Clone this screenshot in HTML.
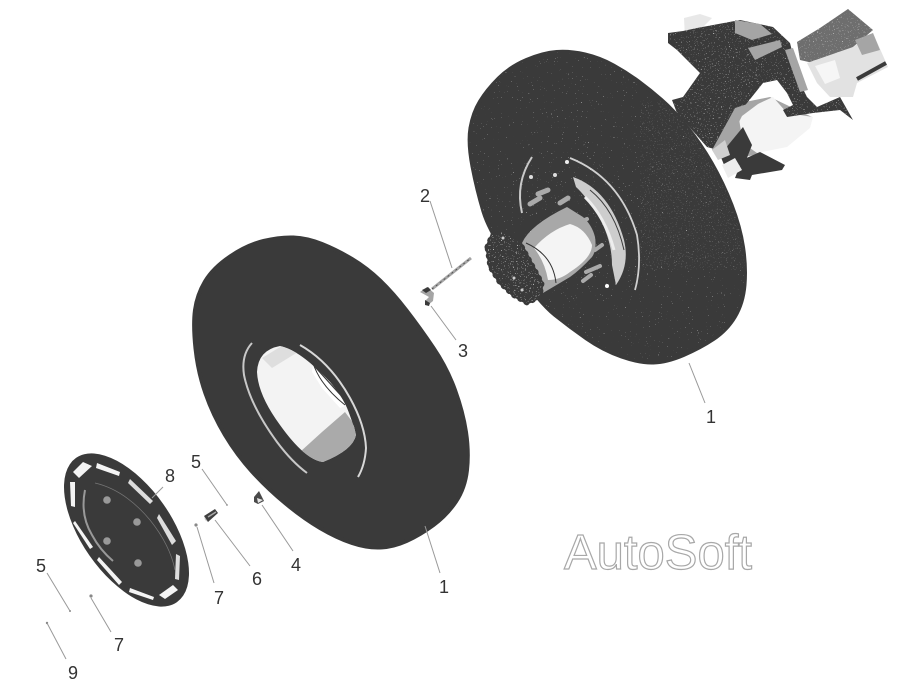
<!DOCTYPE html>
<html><head><meta charset="utf-8">
<style>
html,body{margin:0;padding:0;background:#fff;width:900px;height:686px;overflow:hidden}
svg{display:block}
text{font-family:"Liberation Sans",sans-serif}
.n{font-size:18px;fill:#333;text-anchor:middle}
.l{stroke:#999;stroke-width:1;fill:none}
</style></head><body>
<svg width="900" height="686" viewBox="0 0 900 686" xmlns="http://www.w3.org/2000/svg">
<defs>
<filter id="sp" x="0" y="0" width="100%" height="100%"><feTurbulence type="fractalNoise" baseFrequency="0.75" numOctaves="2" seed="7"/><feColorMatrix values="0 0 0 0 .75 0 0 0 0 .75 0 0 0 0 .75 0 0 0 14 -9.6"/></filter>
<filter id="sp3" x="0" y="0" width="100%" height="100%"><feTurbulence type="fractalNoise" baseFrequency="0.8" numOctaves="2" seed="11"/><feColorMatrix values="0 0 0 0 .7 0 0 0 0 .7 0 0 0 0 .7 0 0 0 16 -12.4"/></filter>
<clipPath id="rt"><path d="M470.5,128 Q473,113 480,101.5 Q487,90 498.5,78.5 Q510,67 526.5,60 Q543,53 556.5,52 Q570,51 585,54.5 Q600,58 613.5,65.5 Q627,73 638.5,81.5 Q650,90 661.5,100 Q673,110 686.5,126.5 Q700,143 711.5,163 Q723,183 731.5,205 Q740,227 743,247 Q746,267 744.5,285 Q743,303 735,316.5 Q727,330 713.5,339 Q700,348 683.5,355 Q667,362 653.5,362.5 Q640,363 621.5,356.5 Q603,350 586.5,338.5 Q570,327 555,315 Q540,303 515,268 Q490,233 483.5,211.5 Q477,190 472.5,166.5 Q468,143 470.5,128Z"/></clipPath>
<clipPath id="bd"><polygon points="668,33 683,31 697,28 740,20 773,27 790,43 800,83 807,97 817,107 840,97 853,120 840,110 813,113 787,117 783,110 793,105 787,93 777,80 763,83 747,103 730,123 718,150 707,147 677,113 672,100 683,97 700,73 677,50 668,43"/><polygon points="797,42 820,28 848,9 873,30 853,47 840,57 813,63 800,60"/></clipPath>
<clipPath id="hf"><polygon points="487,247 492,235 503,232 520,243 542,283 540,297 527,303 513,295 500,283 490,267"/></clipPath>
<clipPath id="li"><path d="M257,372 Q258,350 280,346 Q300,350 330,382 Q350,405 356,435 Q353,450 323,462 Q305,460 280,425 Q258,395 257,372Z"/></clipPath>
</defs>
<rect width="900" height="686" fill="#fff"/>

<!-- axle assembly -->
<g stroke-linejoin="round">
<polygon fill="#6e6e6e" points="797,42 820,28 848,9 873,30 853,47 840,57 813,63 800,60"/>
<polygon fill="#e2e2e2" points="807,63 853,47 873,33 888,67 857,83 853,97 830,97 817,83"/>
<polygon fill="#f6f6f6" points="815,66 835,60 840,78 825,84"/>
<polygon fill="#a5a5a5" points="855,40 873,33 880,50 862,55"/>
<line x1="857" y1="79" x2="886" y2="63" stroke="#3a3a3a" stroke-width="4"/>
<polygon fill="#e8e8e8" points="684,18 700,14 712,18 700,30 685,38"/>
<polygon fill="#a5a5a5" points="730,105 770,97 812,117 790,135 755,155 725,160 712,150"/>
<polygon fill="#f4f4f4" points="738,113 773,97 787,113 813,117 810,128 787,147 757,153 743,143"/>
<polygon fill="#3a3a3a" points="668,33 683,31 697,28 740,20 773,27 790,43 800,83 807,97 817,107 840,97 853,120 840,110 813,113 787,117 783,110 793,105 787,93 777,80 763,83 747,103 730,123 718,150 707,147 677,113 672,100 683,97 700,73 677,50 668,43"/>
<g clip-path="url(#bd)"><rect x="660" y="0" width="220" height="160" filter="url(#sp)" opacity=".7"/></g>
<polygon fill="#a5a5a5" points="735,20 760,24 772,34 752,40 735,33"/>
<polygon fill="#a5a5a5" points="748,48 780,40 782,47 755,60"/>
<polygon fill="#a5a5a5" points="785,50 793,48 808,90 800,92"/>
<polygon fill="#a5a5a5" points="735,108 766,98 742,116 725,150 712,150"/>
<polygon fill="#3a3a3a" points="743,127 752,145 745,163 727,172 720,155"/>
<polygon fill="#3a3a3a" points="742,160 760,152 785,165 782,170 752,175 750,180 735,178"/>
<polygon fill="#ededed" points="722,165 735,158 742,170 728,178"/>
<polygon fill="#cfcfcf" points="712,150 725,140 730,155 718,160"/>
</g>

<!-- rear tire -->
<path fill="#3a3a3a" stroke="#3a3a3a" stroke-width="4" d="M470.5,128 Q473,113 480,101.5 Q487,90 498.5,78.5 Q510,67 526.5,60 Q543,53 556.5,52 Q570,51 585,54.5 Q600,58 613.5,65.5 Q627,73 638.5,81.5 Q650,90 661.5,100 Q673,110 686.5,126.5 Q700,143 711.5,163 Q723,183 731.5,205 Q740,227 743,247 Q746,267 744.5,285 Q743,303 735,316.5 Q727,330 713.5,339 Q700,348 683.5,355 Q667,362 653.5,362.5 Q640,363 621.5,356.5 Q603,350 586.5,338.5 Q570,327 555,315 Q540,303 515,268 Q490,233 483.5,211.5 Q477,190 472.5,166.5 Q468,143 470.5,128Z"/>
<g clip-path="url(#rt)"><rect x="460" y="40" width="300" height="330" filter="url(#sp3)"/><polygon points="650,100 745,190 745,270 670,240 640,150" filter="url(#sp)" opacity=".3"/></g>

<!-- rear rim -->
<path d="M522,213 Q515,183 532,157" fill="none" stroke="#c9c9c9" stroke-width="2"/>
<path d="M570,158 Q620,178 637,235 Q642,265 635,290" fill="none" stroke="#d0d0d0" stroke-width="1.8"/>
<path d="M573,177 Q610,190 624,240 Q630,265 616,285 L612,265 Q612,240 598,215 Q585,195 576,187Z" fill="#cdcdcd"/>
<path d="M590,190 Q615,210 624,250" fill="none" stroke="#3a3a3a" stroke-width="1"/>
<path d="M585,197 Q605,217 614,250" fill="none" stroke="#eee" stroke-width="3"/>
<line x1="530" y1="204" x2="540" y2="198" stroke="#aaa" stroke-width="5" stroke-linecap="round"/>
<line x1="538" y1="194" x2="548" y2="190" stroke="#aaa" stroke-width="5" stroke-linecap="round"/>
<line x1="560" y1="203" x2="568" y2="198" stroke="#aaa" stroke-width="5" stroke-linecap="round"/>
<line x1="580" y1="222" x2="587" y2="219" stroke="#aaa" stroke-width="4" stroke-linecap="round"/>
<line x1="595" y1="250" x2="602" y2="245" stroke="#aaa" stroke-width="4" stroke-linecap="round"/>
<line x1="586" y1="272" x2="600" y2="266" stroke="#aaa" stroke-width="4" stroke-linecap="round"/>
<line x1="583" y1="281" x2="591" y2="275" stroke="#aaa" stroke-width="4" stroke-linecap="round"/>
<circle cx="531" cy="177" r="2" fill="#ddd"/><circle cx="555" cy="175" r="2" fill="#ddd"/><circle cx="567" cy="162" r="2" fill="#eee"/><circle cx="607" cy="286" r="2" fill="#fff"/>

<!-- rear hub -->
<path fill="#a8a8a8" d="M522,243 Q530,225 567,207 L583,217 Q592,225 595,237 Q597,250 592,257 Q580,270 570,277 L543,293 L542,280Z"/>
<path fill="#f4f4f4" d="M534,248 Q550,230 570,224 Q585,228 592,245 Q592,258 570,272 Q560,280 548,280 Q545,262 534,248Z"/>
<path d="M526,243 Q553,255 556,283" fill="none" stroke="#333" stroke-width="1"/>
<polygon points="487,247 492,235 503,232 520,243 542,283 540,297 527,303 513,295 500,283 490,267" fill="#3a3a3a" stroke="#3a3a3a" stroke-width="3" stroke-linejoin="round"/>
<polygon points="487,247 492,235 503,232 520,243 542,283 540,297 527,303 513,295 500,283 490,267" fill="none" stroke="#3a3a3a" stroke-width="5" stroke-dasharray="1 6" stroke-linecap="round"/>
<g clip-path="url(#hf)"><rect x="480" y="225" width="70" height="85" filter="url(#sp)"/></g>
<g fill="#ccc"><circle cx="503" cy="238" r="1.5"/><circle cx="514" cy="278" r="1.5"/><circle cx="522" cy="290" r="1.5"/></g>

<!-- front tire -->
<path fill="#3a3a3a" stroke="#3a3a3a" stroke-width="4" d="M195,310 Q197,295 205,281.5 Q213,268 230,256.5 Q247,245 263.5,241 Q280,237 293.5,237.5 Q307,238 322,244 Q337,250 352,259 Q367,268 380,280.5 Q393,293 406.5,310.5 Q420,328 433.5,348 Q447,368 455,390 Q463,412 466,432 Q469,452 467,470 Q465,488 456,501.5 Q447,515 433.5,525 Q420,535 406.5,541 Q393,547 380,547.5 Q367,548 352,543 Q337,538 320,528 Q303,518 285,503 Q267,488 252,471.5 Q237,455 225,435 Q213,415 205.5,393.5 Q198,372 195.5,348.5 Q193,325 195,310Z"/>

<!-- front rim -->
<path d="M252,343 Q241,355 244,375 Q250,405 277,442 Q292,462 307,473" fill="none" stroke="#c8c8c8" stroke-width="2"/>
<path d="M300,345 Q330,362 350,398 Q365,425 366,448 Q365,465 358,477" fill="none" stroke="#d8d8d8" stroke-width="2"/>
<path fill="#f3f3f3" d="M257,372 Q258,350 280,346 Q300,350 330,382 Q350,405 356,435 Q353,450 323,462 Q305,460 280,425 Q258,395 257,372Z"/>
<g clip-path="url(#li)">
<polygon fill="#aaa" points="300,452 322,432 345,412 360,432 358,450 323,466"/>
<polygon fill="#fff" points="313,363 333,382 348,405 340,408 322,388 312,372"/>
<polygon fill="#dedede" points="262,358 285,344 298,352 272,368"/>
</g>
<path d="M313,363 Q320,385 345,405" fill="none" stroke="#333" stroke-width="1"/>
<path d="M307,358 L345,400 L354,425" fill="none" stroke="#3a3a3a" stroke-width="1.2"/>

<!-- disc 8 -->
<g>
<ellipse cx="126.5" cy="530" rx="88" ry="45" transform="rotate(55 126.5 530)" fill="#3a3a3a"/>
<g fill="#f4f4f4">
<polygon points="73,472 83,462 92,466 79,478"/>
<polygon points="97,463 120,472 119,476 96,468"/>
<polygon points="130,479 153,501 150,504 128,483" fill="#ddd"/>
<polygon points="159,514 176,541 172,545 157,518" fill="#ddd"/>
<polygon points="176,554 180,556 179,580 175,579" fill="#ddd"/>
<polygon points="159,595 173,585 178,590 165,599"/>
<polygon points="130,588 154,597 153,600 129,592"/>
<polygon points="99,557 122,582 119,585 97,560"/>
<polygon points="75,521 93,547 90,549 73,523"/>
<polygon points="70,482 75,482 75,507 71,506"/>
</g>
<path d="M85,490 Q80,515 92,535 Q100,550 113,561" fill="none" stroke="#999" stroke-width="2"/>
<path d="M95,483 Q125,490 150,520 Q170,545 175,570" fill="none" stroke="#777" stroke-width=".7"/>
<g fill="#999"><circle cx="107" cy="500" r="3.8"/><circle cx="137" cy="522" r="3.8"/><circle cx="107" cy="541" r="3.8"/><circle cx="138" cy="563" r="3.8"/></g>
</g>

<!-- small parts -->
<line x1="432" y1="289" x2="471" y2="258" stroke="#a5a5a5" stroke-width="3"/>
<line x1="432" y1="289" x2="471" y2="258" stroke="#444" stroke-width=".8" stroke-dasharray="2 3"/>
<path d="M420,292 L427,287 L434,293 L433,301 L428,305 L425,301 L429,297 Z" fill="#a5a5a5"/>
<path d="M422,290 L428,287 L431,290 L426,293Z M425,300 L430,303 L429,306 L425,305Z" fill="#3a3a3a"/>
<path d="M254,497 L259,491 L264,501 L258,504 L254,502Z" fill="#4a4a4a"/>
<path d="M257,498 L263,500 L258,503Z" fill="#e6e6e6"/>
<polygon points="204,516 215,509 218,513 208,522" fill="#3f3f3f"/>
<polygon points="204,516 208,522 205,520" fill="#ccc"/>
<line x1="208" y1="517" x2="216" y2="512" stroke="#aaa" stroke-width="1.5"/>
<circle cx="196" cy="525" r="1.6" fill="#888"/>
<circle cx="91" cy="596" r="1.6" fill="#888"/>
<circle cx="227" cy="505" r="1" fill="#aaa"/>
<circle cx="70" cy="611" r="1" fill="#888"/>
<circle cx="47" cy="623" r="1.2" fill="#888"/>

<!-- leaders -->
<g class="l">
<line x1="430" y1="201" x2="452" y2="268"/>
<line x1="456" y1="340" x2="431" y2="306"/>
<line x1="705" y1="403" x2="689" y2="363"/>
<line x1="440" y1="573" x2="425" y2="526"/>
<line x1="202" y1="469" x2="227" y2="505"/>
<line x1="163" y1="487" x2="152" y2="498"/>
<line x1="293" y1="551" x2="262" y2="505"/>
<line x1="250" y1="566" x2="215" y2="520"/>
<line x1="214" y1="583" x2="197" y2="527"/>
<line x1="47" y1="573" x2="70" y2="611"/>
<line x1="111" y1="632" x2="91" y2="598"/>
<line x1="66" y1="659" x2="47" y2="623"/>
</g>

<!-- labels -->
<text class="n" x="425" y="202">2</text>
<text class="n" x="463" y="357">3</text>
<text class="n" x="711" y="423">1</text>
<text class="n" x="444" y="593">1</text>
<text class="n" x="196" y="468">5</text>
<text class="n" x="170" y="482">8</text>
<text class="n" x="296" y="571">4</text>
<text class="n" x="257" y="585">6</text>
<text class="n" x="219" y="604">7</text>
<text class="n" x="41" y="572">5</text>
<text class="n" x="119" y="651">7</text>
<text class="n" x="73" y="679">9</text>

<text x="564" y="569" font-size="49" fill="#fff" stroke="#a8a8a8" stroke-width="1.2">AutoSoft</text>
</svg>
</body></html>
